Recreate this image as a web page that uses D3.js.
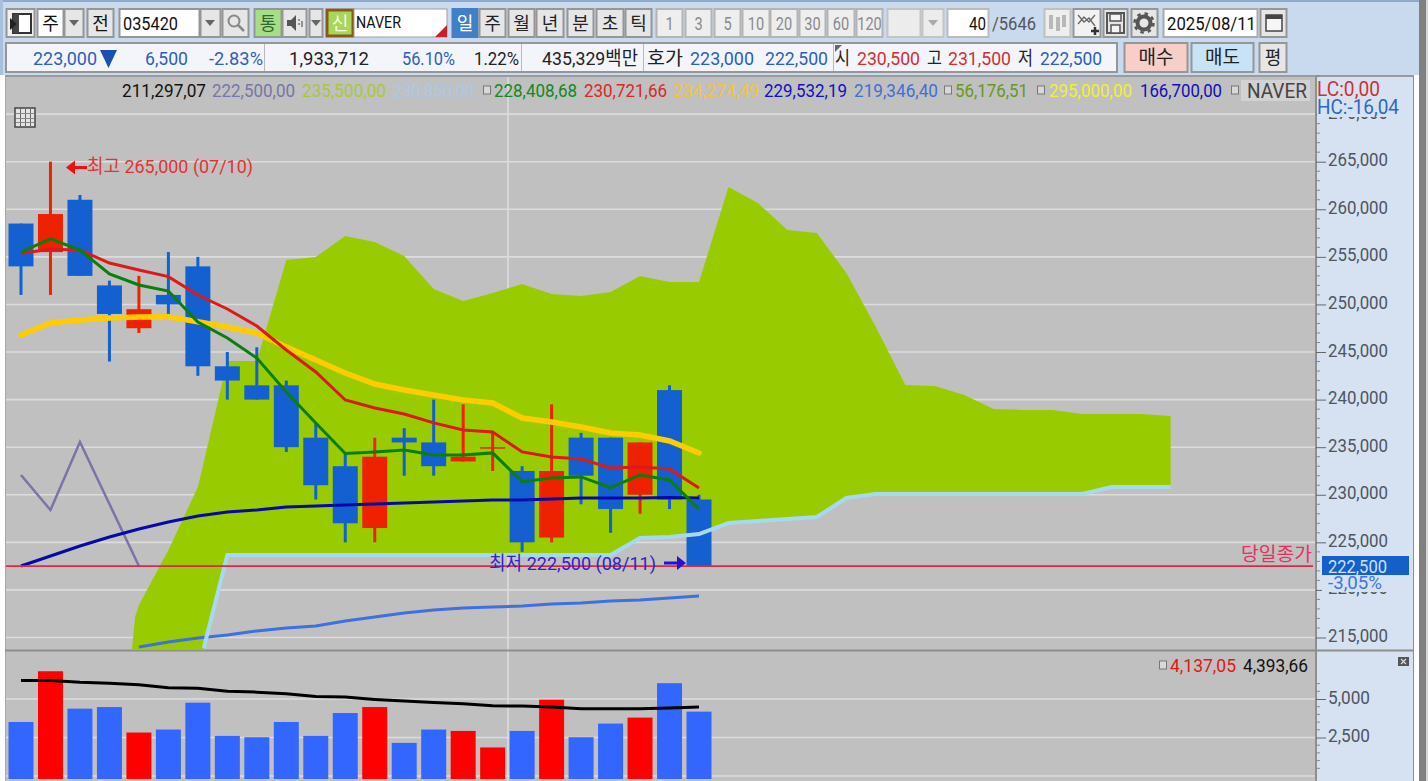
<!DOCTYPE html>
<html><head><meta charset="utf-8">
<script src="https://cdn.jsdelivr.net/npm/d3@7"></script>
<style>html,body{margin:0;padding:0;background:#fff;overflow:hidden}svg{display:block}
text{font-family:Roboto,"Noto Sans CJK KR",sans-serif}</style></head>
<body><svg id="c" width="1428" height="781"></svg>
<script>
// ---- candles
const opens =[258500,255500,261000,252000,247500,251000,254000,243500,241500,241500,236000,233000,226500,236000,235500,233500,235000,232500,225500,236000,236000,230000,241000,229500];
const closes=[254000,259500,253000,249000,249500,250000,243500,242000,240000,235000,231000,227000,234000,235500,233000,234000,235000,225000,232500,232000,228500,235500,229500,222500];
const highs =[258500,265000,261500,252500,253000,255500,255000,245000,245500,242000,237500,234500,236000,237000,240000,239500,236500,233000,239500,236500,236000,235500,241500,230000];
const lows  =[251000,251000,253000,244000,247000,249000,242500,240000,240000,234500,229500,225000,225000,232000,232000,233500,232500,224000,225000,229000,226000,228000,228500,222500];
// ---- moving averages
const maGreen=[255510,256880,255720,253200,252040,251410,248150,246470,244370,240800,237540,234340,234500,234700,234180,234180,234400,231370,231760,231870,230740,232080,231550,228500];
const maRed=[255370,255790,255720,254350,253620,252920,250990,249520,247730,245210,242900,239960,239120,238490,237550,236810,236600,234500,233970,233760,232810,232920,232710,230710];
const maYellow=[246790,248050,248370,248570,248680,248710,248190,247630,246990,245530,244160,242800,241640,241010,240480,239960,239640,238060,237640,237120,236490,236280,235650,234390];
const maNavy=[222510,223560,224610,225560,226400,227140,227770,228190,228400,228710,228820,228920,229030,229130,229240,229340,229450,229450,229560,229660,229660,229660,229710,229660];
const zigzag=[232080,228400,235550,229030,222520];
const blueLow=[214000,214530,214950,215270,215690,216000,216210,216740,217150,217570,217890,218100,218210,218310,218520,218620,218830,218940,219150,219360];
const blueLowStart=4;
// ---- ichimoku cloud
const cloudIdx=[3.77,3.87,4,5,6,6.2,7,8,9,10,11,12,13,14,15,16,17,18,19,20,21,22,23,24,25,26,27,28,29,30,31,32,33,34,35,36,37,38,39];
const cloudUpper=[214000,217150,218410,224190,230810,233440,244060,244060,254670,254990,257190,256560,255090,251620,250360,251200,252150,251100,250890,251310,252990,252360,252360,262340,260660,257820,257510,253300,247630,241530,241430,240480,239010,238910,238910,238490,238490,238490,238280];
const cloudLower=[212500,212500,212500,212500,212500,213900,223670,223670,223670,223670,223670,223670,223670,223670,223670,223670,223670,223670,223670,223670,225450,225560,225870,227030,227240,227450,227660,229660,230080,230080,230080,230080,230080,230080,230080,230080,230810,230810,230810];
// ---- volume
const volumes=[3508,6802,4373,4477,2823,3017,4761,2603,2519,3508,2603,4089,4477,2151,3017,2926,1854,2926,4955,2519,3404,3792,6027,4180];
const volumeMa=[6202,6202,6092,6027,5924,5730,5704,5510,5446,5342,5168,5123,4974,4864,4780,4696,4567,4541,4477,4373,4373,4373,4412,4477];
// ---- ticks and labels
const priceTicks=[270000,265000,260000,255000,250000,245000,240000,235000,230000,225000,220000,215000];
const volumeTicks=[5000,2500];
const lastClose=222500;
const maxLabel="최고 265,000 (07/10)", minLabel="최저 222,500 (08/11)";

const svg=d3.select("#c");
const x=d3.scaleLinear().domain([0,23]).range([21,699]);
const y=d3.scaleLinear().domain([265000,215000]).range([161.7,637.5]);
const yV=d3.scaleLinear().domain([0,5000]).range([776,699]);

function rect(g,x0,y0,x1,y1,fill,stroke,sw){
  return g.append("rect").attr("x",x0).attr("y",y0).attr("width",x1-x0).attr("height",y1-y0)
    .attr("fill",fill).attr("stroke",stroke||"none").attr("stroke-width",sw||0);
}
function txt(g,x0,x1,cy,s,color,size){
  const t=g.append("text").attr("x",x0).attr("y",cy).attr("dominant-baseline","central")
    .attr("fill",color).attr("font-size",size||19).text(s);
  if(x1) t.attr("textLength",x1-x0).attr("lengthAdjust","spacingAndGlyphs");
  return t;
}
// ---- window chrome
rect(svg,0,0,1428,781,"#ffffff");
rect(svg,0,0,1428,75,"#c9daee");
rect(svg,0,0,1428,2,"#8fa9c9");
rect(svg,0,0,3,75,"#a9c0dc");
rect(svg,1419,0,1426,781,"#808080");
rect(svg,1426,0,1428,781,"#d8d8d8");

const ui=svg.append("g");
function btn(x0,x1,label,o={}){
  const y0=o.y0||9,y1=o.y1||37;
  rect(ui,x0+.5,y0,x1-.5,y1,o.fill||"#e6e6e6",o.border||"#969696",2);
  if(label) txt(ui,null,null,(y0+y1)/2,label,o.color||"#3a3a3a",o.size||18)
     .attr("x",(x0+x1)/2).attr("text-anchor","middle");
}
function arrow(cx,cy,c){ui.append("path").attr("d",`M${cx-5},${cy-3}h10l-5,6z`).attr("fill",c||"#666");}
// row 1
btn(6,35,"",{fill:"#f0f0f0"});
rect(ui,13,14,31,33,"#ffffff","#333",2);rect(ui,13,14,19,33,"#444");
ui.append("path").attr("d","M10,18l7,6l-7,6z").attr("fill","#222");
btn(37,64,"주",{fill:"#ffffff",color:"#111"});btn(64,84,"",{});arrow(74,23);
btn(87,114,"전",{color:"#111"});
btn(119,200,"",{fill:"#ffffff"});txt(ui,123,178,23,"035420","#111",18);
btn(200,221,"",{});arrow(210,23);
btn(222,249,"",{});
ui.append("circle").attr("cx",234).attr("cy",21).attr("r",5.5).attr("fill","none").attr("stroke","#888").attr("stroke-width",2);
ui.append("path").attr("d","M238,25l6,6").attr("stroke","#888").attr("stroke-width",2.5);
btn(254,282,"통",{fill:"#a6de88",color:"#2d6b2d"});
btn(282,307,"",{});ui.append("path").attr("d","M287,20h4l5,-5v16l-5,-5h-4z").attr("fill","#555");
ui.append("path").attr("d","M299,19v2M299,23v2M302,21v6").attr("stroke","#777").attr("stroke-width",1.5);
btn(309,323,"",{});arrow(316,23);
rect(ui,327,10,353,36,"#a8d65a","#8a5a14",3);
txt(ui,null,null,23,"신","#f4ffe0",18).attr("x",340).attr("text-anchor","middle");
rect(ui,354,9,447,37,"#ffffff","#a0a0a0",1);
txt(ui,356,401,22,"NAVER","#111",17);
ui.append("path").attr("d","M447,25v12h-12z").attr("fill","#cc1f2a");
[["일",452,478],["주",479,506],["월",508,535],["년",536,564],["분",567,594],["초",596,624],["틱",625,652]].forEach((b,i)=>{
  btn(b[1],b[2],b[0],i===0?{fill:"#3f80c8",color:"#ffffff",border:"#3f80c8"}:{color:"#222"});
});
[["1",656,683],["3",685,712],["5",714,741],["10",742,770],["20",770,798],["30",799,826],["60",827,855],["120",856,883]].forEach(b=>{
  btn(b[1],b[2],"",{fill:"#eeeeee",border:"#b4b4b4"});
  txt(ui,null,null,23,b[0],"#8a8a8a",18).attr("x",(b[1]+b[2])/2).attr("text-anchor","middle").attr("textLength",b[0].length*8.2).attr("lengthAdjust","spacingAndGlyphs");
});
btn(887,921,"",{fill:"#ececec",border:"#c4c4c4"});btn(922,944,"",{fill:"#ececec",border:"#c4c4c4"});arrow(933,23,"#aaa");
btn(947,989,"",{fill:"#ffffff",border:"#bbb"});txt(ui,969,986,23,"40","#111",18);
txt(ui,992,1036,23,"/5646","#555",18);
btn(1044,1071,"",{fill:"#eeeeee",border:"#c0c0c0"});
ui.append("path").attr("d","M1051,15v14M1058,17v14M1064,15v12").attr("stroke","#b8b8b8").attr("stroke-width",4);
btn(1073,1101,"",{fill:"#f2f2f2"});
ui.append("path").attr("d","M1078,24l6,-7l5,5l6,-7M1078,15l6,7l5,-4l6,8").attr("fill","none").attr("stroke","#666").attr("stroke-width",1.3);
ui.append("path").attr("d","M1091,31h8M1095,27v8").attr("stroke","#333").attr("stroke-width",2.5);
btn(1103,1128,"",{});
rect(ui,1107,13,1124,33,"none","#555",2);rect(ui,1110,14,1121,21,"#f4f4f4","#555",1.5);rect(ui,1111,25,1120,33,"#f4f4f4","#555",1.5);
btn(1131,1158,"",{});
ui.append("circle").attr("cx",1144).attr("cy",23).attr("r",6.5).attr("fill","none").attr("stroke","#555").attr("stroke-width",4);
ui.append("circle").attr("cx",1144).attr("cy",23).attr("r",9.5).attr("fill","none").attr("stroke","#555").attr("stroke-width",2.5).attr("stroke-dasharray","3.5 4");
btn(1163,1258,"",{fill:"#ffffff",border:"#aaa"});txt(ui,1167,1256,23,"2025/08/11","#111",18);
btn(1260,1287,"",{});
rect(ui,1266,15,1282,31,"#f6f6f6","#444",1.5);rect(ui,1266,15,1282,19,"#444");
// row 2
rect(ui,6,43,1117,72,"#f3f5fa","#969696",2);
[264,521,643,833].forEach(v=>rect(ui,v,44,v+1,71,"#b9b9b9"));
const row2=[[33,97,"223,000","#2c5fbf"],[145,188,"6,500","#2c5fbf"],[209,263,"-2.83%","#2c5fbf"],[289,369,"1,933,712","#222"],[402,455,"56.10%","#2c5fbf"],[474,519,"1.22%","#222"],[542,638,"435,329백만","#222"],[647,683,"호가","#222"],[690,754,"223,000","#2c5fbf"],[765,828,"222,500","#2c5fbf"],[835,850,"시","#222"],[857,920,"230,500","#d03030"],[927,942,"고","#222"],[948,1011,"231,500","#d03030"],[1018,1033,"저","#222"],[1040,1102,"222,500","#2c5fbf"]];
row2.forEach(d=>txt(ui,d[0],d[1],58,d[2],d[3],19));
ui.append("path").attr("d","M100,50h17l-8.5,18z").attr("fill","#1a50b0");
ui.append("path").attr("d","M835,45h7l-7,7z").attr("fill","#666");
btn(1124,1188,"매수",{y0:43,y1:72,fill:"#f6cfc8",color:"#222",size:19});
btn(1191,1254,"매도",{y0:43,y1:72,fill:"#c8e2f6",color:"#222",size:19});
btn(1259,1287,"평",{y0:43,y1:72,color:"#222"});

// ---- plot frame
rect(svg,5,77,1316,781,"#c0c0c0");
rect(svg,1316,77,1413,781,"#d6e2f2");
rect(svg,1413,75,1414,781,"#8f8f8f");
rect(svg,5,75,1414,77,"#9a9a9a");
rect(svg,5,77,6,781,"#a8a8a8");

const defs=svg.append("defs");
defs.append("clipPath").attr("id","pane").append("rect").attr("x",6).attr("y",77).attr("width",1310).attr("height",572);
defs.append("clipPath").attr("id","vpane").append("rect").attr("x",6).attr("y",651).attr("width",1310).attr("height",128);

// ---- grid
const grid=svg.append("g").attr("stroke","#dcdcdc").attr("stroke-width",1.6);
grid.selectAll(".g").data(priceTicks).join("line").attr("x1",6).attr("x2",1316).attr("y1",d=>y(d)).attr("y2",d=>y(d));
grid.selectAll(".v").data(volumeTicks.concat([0])).join("line").attr("x1",6).attr("x2",1316).attr("y1",d=>yV(d)).attr("y2",d=>yV(d));
grid.append("line").attr("x1",508).attr("x2",508).attr("y1",77).attr("y2",781);

const pane=svg.append("g").attr("clip-path","url(#pane)");
// ---- cloud
const cloud=cloudIdx.map((i,k)=>({i,u:cloudUpper[k],l:cloudLower[k]}));
pane.append("path").datum(cloud).attr("fill","#99cc00")
  .attr("d",d3.area().x(d=>x(d.i)).y0(d=>y(d.l)).y1(d=>y(d.u)));
// ---- candles
const candles=opens.map((o,i)=>({i,o,c:closes[i],h:highs[i],l:lows[i]}));
const col=d=>d.c>=d.o?"#ee2200":"#1460d0";
const cg=pane.selectAll(".candle").data(candles).join("g");
cg.append("rect").attr("x",d=>x(d.i)-1.5).attr("width",3).attr("y",d=>y(d.h)).attr("height",d=>y(d.l)-y(d.h)).attr("fill",col);
cg.append("rect").attr("x",d=>x(d.i)-12.5).attr("width",25).attr("y",d=>y(Math.max(d.o,d.c)))
  .attr("height",d=>Math.max(1.5,Math.abs(y(d.o)-y(d.c)))).attr("fill",col);
// ---- lines
const lineI=(start=0)=>d3.line().x((d,i)=>x(i+start)).y(d=>y(d));
pane.append("path").datum(zigzag).attr("d",lineI()).attr("fill","none").attr("stroke","#7a74a8").attr("stroke-width",2.5);
pane.append("path").datum(blueLow).attr("d",lineI(blueLowStart)).attr("fill","none").attr("stroke","#3f6fe0").attr("stroke-width",3);
const spanLine=cloud.filter(d=>d.i>=6.2);
pane.append("path").datum(spanLine).attr("d",d3.line().x(d=>x(d.i)).y(d=>y(d.l))).attr("fill","none").attr("stroke","#a8d8f0").attr("stroke-width",4);
pane.append("path").datum(maNavy).attr("d",lineI()).attr("fill","none").attr("stroke","#0808a8").attr("stroke-width",3);
pane.append("path").datum(maYellow).attr("d",lineI()).attr("fill","none").attr("stroke","#ffcc00").attr("stroke-width",5.5).attr("stroke-linecap","round");
pane.append("path").datum(maRed).attr("d",lineI()).attr("fill","none").attr("stroke","#dd1a1a").attr("stroke-width",3);
pane.append("path").datum(maGreen).attr("d",lineI()).attr("fill","none").attr("stroke","#0a7f0a").attr("stroke-width",3);

// ---- last price line + annotations
svg.append("line").attr("x1",6).attr("x2",1313).attr("y1",y(lastClose)).attr("y2",y(lastClose)).attr("stroke","#d82a4a").attr("stroke-width",1.6);
txt(svg,1241,1312,554,"당일종가","#e83060",19);
txt(svg,87,253,166,maxLabel,"#e63232",19);
svg.append("path").attr("d",`M66,${y(264400)}l9,-7v5.5h12v3h-12v5.5z`).attr("fill","#ee1010");
txt(svg,489,656,563,minLabel,"#3422c4",19);
svg.append("path").attr("d","M686,563l-9,-7v5.5h-13v3h13v5.5z").attr("fill","#2a10d0");

// ---- table icon
rect(svg,15,108,35,127,"#e4e4e4","#444",1.5);
[20,25,30].forEach(v=>rect(svg,v,109,v+1,126,"#666"));
[113,118,122].forEach(v=>rect(svg,16,v,34,v+1,"#888"));

// ---- legend row
const legend=[[122,206,"211,297,07","#111111"],[212,295,"222,500,00","#7676a8"],[302,386,"235,500,00","#a8c83c"],[393,474,"230,850,00","#acc8e6"],[494,577,"228,408,68","#0e8a1e"],[584,667,"230,721,66","#d82828"],[673,759,"234,274,49","#f0c440"],[764,847,"229,532,19","#1010c0"],[854,938,"219,346,40","#4070d0"],[955,1028,"56,176,51","#68981e"],[1049,1132,"295,000,00","#f2f030"],[1140,1222,"166,700,00","#1010b0"]];
legend.forEach(d=>txt(svg,d[0],d[1],90,d[2],d[3],19));
[483,944,1037,1231].forEach(v=>rect(svg,v+.5,86,v+7.5,94,"#d8d8d8","#777",1));
rect(svg,1241,80,1310,101,"#d2d2d2");
txt(svg,1247,1307,91,"NAVER","#444",20);

// ---- price axis (d3 axis)
const ax=svg.append("g").attr("transform","translate(1316,0)");
ax.call(d3.axisRight(y).tickValues(priceTicks).tickSize(10).tickPadding(2).tickFormat(d3.format(",")));
ax.select(".domain").attr("stroke","#8f8f8f").attr("stroke-width",2).attr("d","M0,77V650");
ax.selectAll("line").attr("stroke","#666");
ax.selectAll("text").attr("font-size",19).attr("font-family",'Roboto,"Noto Sans CJK KR",sans-serif').attr("fill","#4e5560").attr("dy","4px").attr("textLength",60).attr("lengthAdjust","spacingAndGlyphs");
const minor=d3.range(216000,275000,1000).filter(v=>v%5000!==0);
svg.append("g").selectAll("line").data(minor).join("line").attr("x1",1316).attr("x2",1320).attr("y1",d=>y(d)).attr("y2",d=>y(d)).attr("stroke","#888");

// overlay panels on axis
rect(svg,1317,78,1413,117,"#d6e2f2");
txt(svg,1317,1380,89,"LC:0,00","#d03030",20);
txt(svg,1317,1399,107,"HC:-16,04","#2f68c0",20);
rect(svg,1322,575,1413,592,"#d6e2f2");
rect(svg,1322,556,1409,575,"#1460c8");
txt(svg,1328,1387,566,d3.format(",")(lastClose),"#cfe0ff",19);
txt(svg,1328,1382,582,"-3,05%","#3a78e0",19);

// ---- volume pane
rect(svg,5,649.5,1413,651.5,"#8e8e8e");
const vp=svg.append("g").attr("clip-path","url(#vpane)");
vp.selectAll(".b").data(volumes).join("rect")
  .attr("x",(d,i)=>x(i)-12.5).attr("width",25).attr("y",d=>yV(d)).attr("height",d=>779-yV(d))
  .attr("fill",(d,i)=>closes[i]>=opens[i]?"#ff0000":"#3366ff");
vp.append("path").datum(volumeMa).attr("fill","none").attr("stroke","#000").attr("stroke-width",3)
  .attr("d",d3.line().x((d,i)=>x(i)).y(d=>yV(d)));
rect(svg,1159.5,661,1166.5,669,"#d8d8d8","#777",1);
txt(svg,1170,1236,665,"4,137,05","#e01818",19);
txt(svg,1243,1308,665,"4,393,66","#111",19);
const av=svg.append("g").attr("transform","translate(1316,0)");
av.call(d3.axisRight(yV).tickValues(volumeTicks).tickSize(10).tickPadding(2).tickFormat(d3.format(",")));
av.select(".domain").attr("stroke","#8f8f8f").attr("stroke-width",2).attr("d","M0,651V781");
av.selectAll("line").attr("stroke","#666");
av.selectAll("text").attr("font-size",19).attr("font-family",'Roboto,"Noto Sans CJK KR",sans-serif').attr("fill","#4e5560").attr("dy","4px").attr("textLength",42).attr("lengthAdjust","spacingAndGlyphs");
svg.append("g").selectAll("line").data(d3.range(500,6500,500).filter(v=>v%2500!==0)).join("line")
  .attr("x1",1316).attr("x2",1320).attr("y1",d=>yV(d)).attr("y2",d=>yV(d)).attr("stroke","#888");
rect(svg,1398,657,1409,666,"#555");
svg.append("path").attr("d","M1401,659l5,5M1406,659l-5,5").attr("stroke","#ddd").attr("stroke-width",1.2);
</script></body></html>
